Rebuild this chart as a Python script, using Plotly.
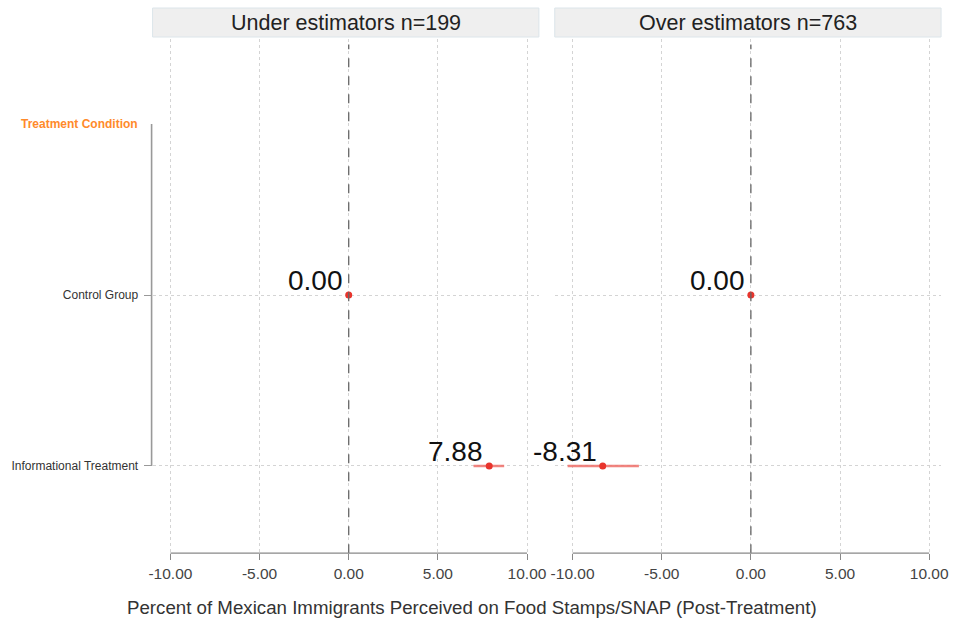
import plotly.graph_objects as go

# Estimates by panel (difference from control, percentage points)
panels = ["Under estimators n=199", "Over estimators n=763"]
row_labels = ["Informational Treatment", "Control Group"]
row_pos = [1, 2]
estimates = [[7.88, 0.00], [-8.31, 0.00]]
ci_low = [[7.00, 0.00], [-10.28, 0.00]]
ci_high = [[8.72, 0.00], [-6.28, 0.00]]
x_ticks = [-10, -5, 0, 5, 10]
header_label = "Treatment Condition"
x_title = "Percent of Mexican Immigrants Perceived on Food Stamps/SNAP (Post-Treatment)"

W, H = 956, 622
WX = 953  # horizontal extent used for paper fractions
FONT = "Liberation Sans, Arial, sans-serif"

def px_x(p):
    return p / WX

def px_y(p):
    return (H - p) / H

x_domains = [[px_x(150), px_x(540)], [px_x(556), px_x(946)]]
y_domain = [px_y(553.2), px_y(38.5)]
x_range = [-11, 10.667]
y_range = [0.49, 3.5]

fig = go.Figure()
shapes = []
annotations = []

for i, name in enumerate(panels):
    xa = "x" if i == 0 else "x2"
    ya = "y" if i == 0 else "y2"
    est = estimates[i]
    lo = ci_low[i]
    hi = ci_high[i]
    fig.add_trace(go.Scatter(
        x=est, y=row_pos, xaxis=xa, yaxis=ya, mode="markers",
        marker=dict(color="#e8342c", size=7),
        error_x=dict(type="data", symmetric=False,
                     array=[h - e for h, e in zip(hi, est)],
                     arrayminus=[e - l for e, l in zip(est, lo)],
                     color="rgba(238,110,105,0.85)", thickness=2.5, width=0),
        showlegend=False, hoverinfo="skip"))
    for v, r in zip(est, row_pos):
        annotations.append(dict(
            x=v, y=r, xref=xa, yref=ya, text=f"{v:.2f}", showarrow=False,
            xanchor="right", yanchor="bottom", xshift=-4, yshift=-3,
            font=dict(family=FONT, size=28, color="#111111")))
    # dashed reference line at zero
    shapes.append(dict(type="line", xref=xa, yref="paper", x0=0, x1=0,
                       y0=y_domain[0], y1=y_domain[1] - 6 / H,
                       line=dict(color="#666666", width=1.3, dash="dash")))
    # x axis line between the outer ticks
    shapes.append(dict(type="line", xref=xa, yref="paper", x0=-10, x1=10,
                       y0=y_domain[0], y1=y_domain[0],
                       line=dict(color="#888888", width=1.3)))
    # panel header strip
    shapes.append(dict(type="rect", xref="paper", yref="paper",
                       x0=x_domains[i][0], x1=x_domains[i][1],
                       y0=px_y(37), y1=px_y(8),
                       fillcolor="#efefef", line=dict(color="#dce5ea", width=1),
                       layer="above"))
    annotations.append(dict(
        x=(x_domains[i][0] + x_domains[i][1]) / 2, y=px_y(23),
        xref="paper", yref="paper", text=name, showarrow=False,
        xanchor="center", yanchor="middle",
        font=dict(family=FONT, size=21.5, color="#222222")))

# y axis spine
shapes.append(dict(type="line", xref="paper", yref="y", x0=px_x(149), x1=px_x(149),
                   y0=1, y1=3, line=dict(color="#999999", width=1.6)))

annotations.append(dict(
    x=px_x(137), y=3, xref="paper", yref="y", text=f"<b>{header_label}</b>",
    showarrow=False, xanchor="right", yanchor="middle",
    font=dict(family=FONT, size=12, color="#ff8a2b")))
annotations.append(dict(
    x=px_x(472), y=px_y(607), xref="paper", yref="paper", text=x_title,
    showarrow=False, xanchor="center", yanchor="middle",
    font=dict(family=FONT, size=18.7, color="#333333")))

xaxis_common = dict(
    range=x_range, tickvals=x_ticks, ticktext=[f"{t:.2f}" for t in x_ticks],
    showgrid=True, gridcolor="#d4d4d4", griddash="dot", gridwidth=1,
    zeroline=False, showline=False, ticks="outside", ticklen=6,
    tickcolor="#888888", tickwidth=1.3,
    tickfont=dict(family=FONT, size=15.5, color="#444444"), fixedrange=True)
yaxis_common = dict(
    range=y_range, domain=y_domain, tickvals=row_pos, showgrid=True,
    gridcolor="#d4d4d4", griddash="dot", gridwidth=1, zeroline=False,
    showline=False, fixedrange=True)

fig.update_layout(
    width=W, height=H, margin=dict(l=0, r=0, t=0, b=0),
    paper_bgcolor="white", plot_bgcolor="white",
    xaxis=dict(domain=x_domains[0], anchor="y", **xaxis_common),
    xaxis2=dict(domain=x_domains[1], anchor="y2", **xaxis_common),
    yaxis=dict(anchor="x", ticktext=row_labels, ticks="outside", ticklen=8,
               tickcolor="#999999", tickwidth=1.3, ticklabelstandoff=3,
               tickfont=dict(family=FONT, size=12, color="#333333"),
               **yaxis_common),
    yaxis2=dict(anchor="x2", showticklabels=False, ticks="", **yaxis_common),
    shapes=shapes, annotations=annotations,
)

fig.write_html("out.html")
